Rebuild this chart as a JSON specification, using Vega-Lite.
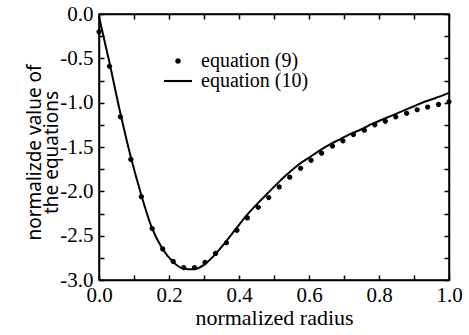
{
  "$schema": "https://vega.github.io/schema/vega-lite/v6.json",
  "width": 350,
  "height": 266,
  "autosize": "none",
  "padding": {"left": 99, "top": 14, "right": 20, "bottom": 55},
  "background": "white",
  "config": {
    "view": {"stroke": "black", "strokeWidth": 1.5},
    "font": "Liberation Serif",
    "axis": {
      "grid": false,
      "domainColor": "black",
      "domainWidth": 1.5,
      "tickColor": "black",
      "tickWidth": 1.5,
      "tickSize": -5,
      "labelColor": "black",
      "labelFont": "Liberation Serif",
      "labelFontSize": 21,
      "titleColor": "black",
      "labelFlush": false,
      "labelOverlap": false,
      "labelBound": false
    }
  },
  "datasets": {
    "eq9": [
      {"r": 0.000, "v": -0.20, "s": "equation (9)"},
      {"r": 0.030, "v": -0.59, "s": "equation (9)"},
      {"r": 0.061, "v": -1.16, "s": "equation (9)"},
      {"r": 0.091, "v": -1.64, "s": "equation (9)"},
      {"r": 0.121, "v": -2.06, "s": "equation (9)"},
      {"r": 0.152, "v": -2.42, "s": "equation (9)"},
      {"r": 0.182, "v": -2.65, "s": "equation (9)"},
      {"r": 0.212, "v": -2.79, "s": "equation (9)"},
      {"r": 0.242, "v": -2.86, "s": "equation (9)"},
      {"r": 0.273, "v": -2.86, "s": "equation (9)"},
      {"r": 0.303, "v": -2.80, "s": "equation (9)"},
      {"r": 0.333, "v": -2.70, "s": "equation (9)"},
      {"r": 0.364, "v": -2.58, "s": "equation (9)"},
      {"r": 0.394, "v": -2.44, "s": "equation (9)"},
      {"r": 0.424, "v": -2.30, "s": "equation (9)"},
      {"r": 0.455, "v": -2.18, "s": "equation (9)"},
      {"r": 0.485, "v": -2.07, "s": "equation (9)"},
      {"r": 0.515, "v": -1.95, "s": "equation (9)"},
      {"r": 0.545, "v": -1.84, "s": "equation (9)"},
      {"r": 0.576, "v": -1.74, "s": "equation (9)"},
      {"r": 0.606, "v": -1.65, "s": "equation (9)"},
      {"r": 0.636, "v": -1.57, "s": "equation (9)"},
      {"r": 0.667, "v": -1.49, "s": "equation (9)"},
      {"r": 0.697, "v": -1.43, "s": "equation (9)"},
      {"r": 0.727, "v": -1.36, "s": "equation (9)"},
      {"r": 0.758, "v": -1.31, "s": "equation (9)"},
      {"r": 0.788, "v": -1.25, "s": "equation (9)"},
      {"r": 0.818, "v": -1.21, "s": "equation (9)"},
      {"r": 0.848, "v": -1.16, "s": "equation (9)"},
      {"r": 0.879, "v": -1.12, "s": "equation (9)"},
      {"r": 0.909, "v": -1.08, "s": "equation (9)"},
      {"r": 0.939, "v": -1.05, "s": "equation (9)"},
      {"r": 0.970, "v": -1.02, "s": "equation (9)"},
      {"r": 1.000, "v": -0.99, "s": "equation (9)"}
    ],
    "eq10": [
      {"r": 0.00, "v": -0.03},
      {"r": 0.03, "v": -0.55},
      {"r": 0.06, "v": -1.10},
      {"r": 0.09, "v": -1.60},
      {"r": 0.12, "v": -2.03},
      {"r": 0.15, "v": -2.40},
      {"r": 0.18, "v": -2.64},
      {"r": 0.21, "v": -2.79},
      {"r": 0.24, "v": -2.87},
      {"r": 0.27, "v": -2.88},
      {"r": 0.30, "v": -2.83},
      {"r": 0.33, "v": -2.72},
      {"r": 0.36, "v": -2.58},
      {"r": 0.39, "v": -2.43},
      {"r": 0.42, "v": -2.28},
      {"r": 0.45, "v": -2.15},
      {"r": 0.48, "v": -2.03},
      {"r": 0.51, "v": -1.91},
      {"r": 0.54, "v": -1.80},
      {"r": 0.57, "v": -1.70},
      {"r": 0.60, "v": -1.62},
      {"r": 0.63, "v": -1.54},
      {"r": 0.66, "v": -1.47},
      {"r": 0.69, "v": -1.41},
      {"r": 0.72, "v": -1.35},
      {"r": 0.75, "v": -1.30},
      {"r": 0.78, "v": -1.24},
      {"r": 0.81, "v": -1.19},
      {"r": 0.84, "v": -1.14},
      {"r": 0.87, "v": -1.09},
      {"r": 0.90, "v": -1.04},
      {"r": 0.93, "v": -0.99},
      {"r": 0.96, "v": -0.95},
      {"r": 1.00, "v": -0.89}
    ]
  },
  "layer": [
    {
      "data": {"name": "eq10"},
      "mark": {"type": "line", "color": "black", "strokeWidth": 2, "interpolate": "monotone"},
      "encoding": {
        "x": {
          "field": "r", "type": "quantitative",
          "scale": {"domain": [0, 1], "nice": false},
          "axis": {
            "orient": "bottom",
            "values": [0, 0.1, 0.2, 0.3, 0.4, 0.5, 0.6, 0.7, 0.8, 0.9, 1],
            "labelExpr": "round(datum.value*10)%2==0 ? format(datum.value,'.1f') : ''",
            "labelPadding": 9,
            "title": "normalized radius",
            "titleFont": "Liberation Serif",
            "titleFontSize": 22,
            "titleFontWeight": "normal",
            "titlePadding": 2
          }
        },
        "y": {
          "field": "v", "type": "quantitative",
          "scale": {"domain": [-3, 0], "nice": false},
          "axis": {
            "orient": "left",
            "values": [0, -0.25, -0.5, -0.75, -1, -1.25, -1.5, -1.75, -2, -2.25, -2.5, -2.75, -3],
            "labelExpr": "abs(round(datum.value*4))%2==0 ? replace(format(datum.value,'.1f'),'\u2212','-') : ''",
            "labelPadding": 11,
            "title": ["normalizde value of", "the equations"],
            "titleFont": "Noto Sans",
            "titleFontSize": 19,
            "titleFontWeight": "normal",
            "titleLineHeight": 17,
            "titleX": -55,
            "titleY": 138,
            "titleBaseline": "bottom"
          }
        }
      }
    },
    {
      "data": {"name": "eq9"},
      "mark": {"type": "point", "filled": true, "color": "black", "size": 170, "opacity": 1},
      "encoding": {
        "x": {
          "field": "r", "type": "quantitative",
          "scale": {"domain": [0, 1], "nice": false},
          "axis": {"orient": "top", "values": [0, 0.1, 0.2, 0.3, 0.4, 0.5, 0.6, 0.7, 0.8, 0.9, 1], "labels": false, "title": null}
        },
        "y": {
          "field": "v", "type": "quantitative",
          "scale": {"domain": [-3, 0], "nice": false},
          "axis": {"orient": "right", "values": [0, -0.25, -0.5, -0.75, -1, -1.25, -1.5, -1.75, -2, -2.25, -2.5, -2.75, -3], "labels": false, "title": null}
        },
        "shape": {
          "field": "s", "type": "nominal",
          "scale": {
            "domain": ["equation (9)", "equation (10)"],
            "range": ["M-0.4,0A0.4,0.4,0,1,1,0.4,0A0.4,0.4,0,1,1,-0.4,0Z", "M-2,-0.15L2,-0.15L2,0.15L-2,0.15Z"]
          },
          "legend": {
            "orient": "none",
            "legendX": 69,
            "legendY": 37,
            "title": null,
            "symbolSize": 196,
            "symbolFillColor": "black",
            "symbolStrokeWidth": 0,
            "labelFont": "Liberation Serif",
            "labelFontSize": 20,
            "labelColor": "black",
            "labelOffset": 13,
            "rowPadding": -5
          }
        }
      }
    }
  ],
  "resolve": {"axis": {"x": "independent", "y": "independent"}}
}
